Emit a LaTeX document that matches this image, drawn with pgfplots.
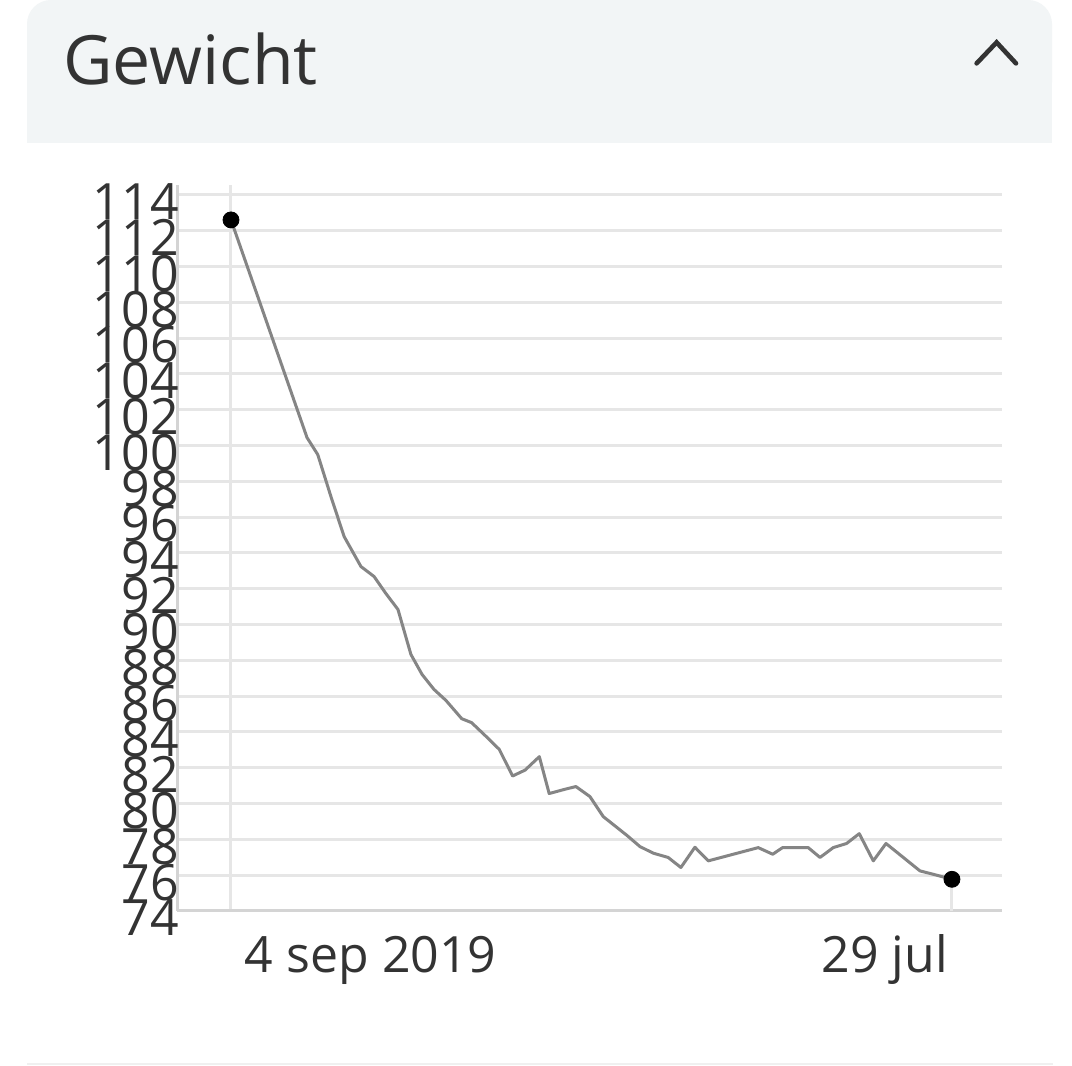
\documentclass[border=0pt]{standalone}
\usepackage{pgfplots}
\pgfplotsset{compat=1.18}
\usepackage{fontspec}
\setmainfont{Open Sans}
\definecolor{txt}{HTML}{333333}
\definecolor{head}{HTML}{F2F5F6}
\definecolor{gridc}{HTML}{E6E6E6}
\definecolor{axc}{HTML}{D4D4D4}
\definecolor{linec}{HTML}{858585}
\begin{document}
\begin{tikzpicture}
% page = 1072 x 1066 px, 1 px = 0.5 pt
\useasboundingbox (0,0) rectangle (536pt,533pt);
\fill[white] (0,0) rectangle (536pt,533pt);
% header card: rounded at the top only
\fill[head, rounded corners=12pt] (13.5pt,480pt) rectangle (526pt,533pt);
\fill[head] (13.5pt,461.5pt) rectangle (526pt,500pt);
\node[anchor=base west, inner sep=0, text=txt, font=\fontsize{34}{40}\selectfont] at (31.5pt,490.5pt) {Gewicht};
\draw[txt, line width=2.3pt, line cap=round] (488.3pt,501.3pt) -- (498.3pt,511.8pt) -- (508pt,501.3pt);
\draw[black!6, line width=0.75pt] (13.5pt,1pt) -- (526.5pt,1pt);

\begin{axis}[
  at={(88.5pt,77.5pt)}, anchor=south west,
  scale only axis, width=412.35pt, height=363pt,
  xmin=-24.64, xmax=351.7, ymin=74, ymax=114.55,
  axis lines=left, axis line style={-, draw=axc, line width=1.5pt},
  ytick={74,76,...,114}, xtick={0},
  xticklabels={},
  extra x ticks={0,329},
  extra x tick labels={\makebox[0pt][l]{\hspace{7pt}4 sep 2019},\makebox[0pt][r]{29 jul\hspace{2pt}}},
  extra x tick style={grid=none, xticklabel style={anchor=base, yshift=-31pt}},
  ymajorgrids, xmajorgrids,
  major grid style={draw=gridc, line width=1.5pt},
  major tick length=0pt,
  /pgf/number format/assume math mode=true,
  tick label style={text=txt, inner sep=0pt},
  xticklabel style={font=\fontsize{25}{30}\selectfont},
  yticklabel style={anchor=east, xshift=1pt, yshift=-3.5pt, font=\fontsize{25}{28}\selectfont},
  clip=false,
]
\addplot[gridc, line width=1.5pt] coordinates {(329,74) (329,75.77)};
\addplot[linec, line width=1.5pt, line join=round, mark=none] coordinates {
(0,112.6) (34.7,100.44) (39.6,99.49) (45.6,97.15) (51.6,94.92) (59.3,93.24)
(65.3,92.68) (70.7,91.73) (76.2,90.84) (82.1,88.33) (87.2,87.21) (92.6,86.38)
(98.1,85.76) (105.3,84.74) (109.8,84.52) (115.9,83.81) (122.4,83.03) (128.5,81.54)
(134.2,81.87) (140.7,82.62) (145.2,80.56) (152.4,80.80) (157.4,80.95) (163.8,80.39)
(169.9,79.27) (180.6,78.23) (186.6,77.60) (192.7,77.23) (199.5,76.99) (205.3,76.43)
(211.7,77.56) (217.8,76.80) (240.6,77.54) (247.2,77.17) (251.7,77.54) (263.4,77.54)
(268.8,76.99) (274.8,77.54) (280.9,77.77) (286.7,78.32) (293.1,76.80) (298.9,77.77)
(314.4,76.24) (320.5,76.05) (329,75.77)
};
\addplot[only marks, mark=*, mark size=4pt, black] coordinates {(0,112.6) (329,75.77)};
\end{axis}
\end{tikzpicture}
\end{document}
